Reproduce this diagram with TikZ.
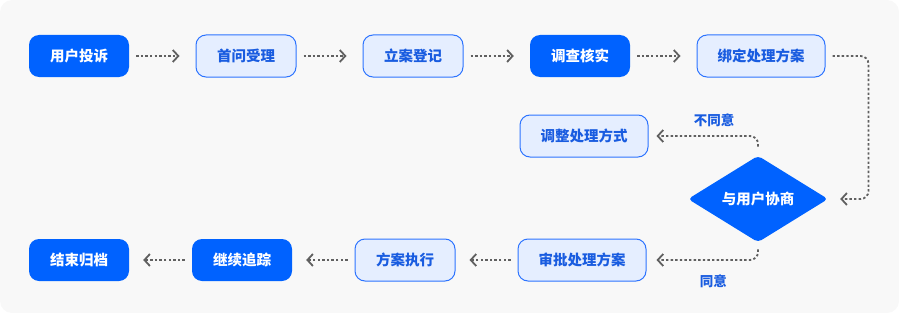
\documentclass[tikz,border=0pt]{standalone}
\usepackage{fontspec}
\newfontfamily\cjk{Noto Sans CJK SC}
\usetikzlibrary{arrows.meta}
\usetikzlibrary{shapes.geometric}
\definecolor{mainblue}{RGB}{0,98,255}
\definecolor{lightblue}{RGB}{229,238,255}
\definecolor{lineblue}{RGB}{45,116,255}
\definecolor{textblue}{RGB}{25,92,224}
\definecolor{flowgray}{RGB}{96,96,96}
\definecolor{paper}{RGB}{248,248,248}
\tikzset{
  flownode/.style = {align=center, inner sep=0pt, text centered,
    font=\cjk\bfseries\fontsize{14.5pt}{17pt}\selectfont,
    rounded corners=10pt, minimum width=100pt, minimum height=42pt},
  sel_n/.style = {flownode, fill=mainblue, text=white},% etape principale
  idle_n/.style = {flownode, fill=lightblue, draw=lineblue, line width=1pt,
    text=textblue},% etape secondaire
  wide_n/.style = {idle_n, minimum width=128pt},% etape longue
  ask_n/.style = {flownode, diamond, fill=mainblue, text=white,
    minimum width=140pt, minimum height=76pt, rounded corners=4pt},% decision
  flow/.style = {draw=flowgray, line width=1.8pt,
    dash pattern=on 2.4pt off 2.2pt, rounded corners=8pt,
    -{Straight Barb[length=5.5pt,width=12pt,line width=1.8pt]}},
  answer/.style = {font=\cjk\bfseries\fontsize{13.5pt}{16pt}\selectfont,
    text=textblue, inner sep=0pt},
}
\begin{document}
\begin{tikzpicture}[x=1pt,y=-1pt]

\fill[paper, rounded corners=12pt] (0,0) rectangle (899,313);
\useasboundingbox (0,0) rectangle (899,313);

% premiere ligne
\node [sel_n] (complain) at (79,56) {用户投诉};
\node [idle_n] (accept) at (246,56) {首问受理};
\node [idle_n] (register) at (413,56) {立案登记};
\node [sel_n] (check) at (580,56) {调查核实};
\node [wide_n] (plan) at (761,56) {绑定处理方案};

% decision
\node [wide_n] (adjust) at (584,136) {调整处理方式};
\node [ask_n] (talk) at (758,199) {与用户协商};

% derniere ligne
\node [wide_n] (approve) at (582,260) {审批处理方案};
\node [idle_n] (execute) at (405,260) {方案执行};
\node [sel_n] (track) at (242,260) {继续追踪};
\node [sel_n] (archive) at (79,260) {结束归档};

\draw [flow, shorten <=7pt, shorten >=16pt] (complain) -- (accept);
\draw [flow, shorten <=7pt, shorten >=16pt] (accept) -- (register);
\draw [flow, shorten <=7pt, shorten >=16pt] (register) -- (check);
\draw [flow, shorten <=7pt, shorten >=16pt] (check) -- (plan);
\draw [flow, shorten <=7pt, shorten >=12pt] (plan.east) -- ++(43,0) |- (talk.east);
\draw [flow, shorten <=9pt, shorten >=8pt] (talk.north) |- (adjust.east)
	node[answer, pos=0.7, above=8pt] {不同意};
\draw [flow, shorten <=7pt, shorten >=10pt] (talk.south) |- (approve.east)
	node[answer, pos=0.7, below=14pt] {同意};
\draw [flow, shorten <=7pt, shorten >=14pt] (approve) -- (execute);
\draw [flow, shorten <=7pt, shorten >=14pt] (execute) -- (track);
\draw [flow, shorten <=7pt, shorten >=14pt] (track) -- (archive);

\end{tikzpicture}
\end{document}
